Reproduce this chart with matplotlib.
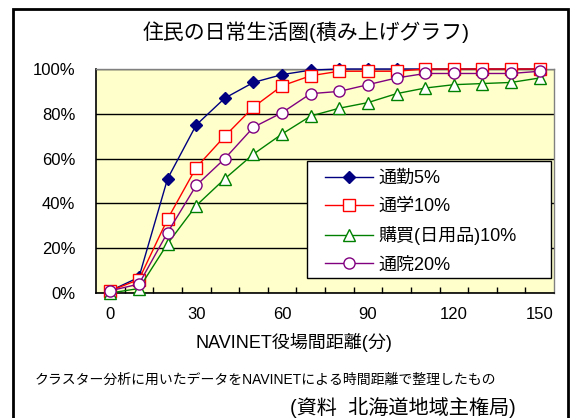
import matplotlib
matplotlib.use("Agg")
import matplotlib.pyplot as plt
from matplotlib.patches import Rectangle

plt.rcParams['font.family'] = ['Liberation Sans', 'Noto Sans CJK JP']

# Travel time to the town office (minutes) and cumulative share of residents (%)
minutes = [0, 10, 20, 30, 40, 50, 60, 70, 80, 90, 100, 110, 120, 130, 140, 150]
commute = [1, 7, 51, 75, 87, 94, 97.5, 99.5, 100, 100, 100, 100, 100, 100, 100, 100]
school = [1, 6, 33, 56, 70, 83, 92.5, 97, 99, 99, 99, 100, 100, 100, 100, 100]
shopping = [0, 2, 22, 39, 51, 62, 71, 79, 82.5, 85, 89, 91.5, 93, 93.5, 94, 96]
hospital = [1, 4, 27, 48, 60, 74, 80.5, 89, 90, 93, 96, 98, 98, 98, 98, 99]

series_labels = ['通勤5%', '通学10%', '購買(日用品)10%', '通院20%']
x_tick_values = [0, 30, 60, 90, 120, 150]
x_tick_labels = ['0', '30', '60', '90', '120', '150']
y_tick_values = [0, 20, 40, 60, 80, 100]
y_tick_labels = ['0%', '20%', '40%', '60%', '80%', '100%']

title = '住民の日常生活圏(積み上げグラフ)'
xlabel = 'NAVINET役場間距離(分)'
note = 'クラスター分析に用いたデータをNAVINETによる時間距離で整理したもの'
source = '(資料  北海道地域主権局)'

W, H = 572, 418
fig = plt.figure(figsize=(W / 100, H / 100), dpi=100)
fig.patch.set_facecolor('white')


def fx(px):
    return px / W


def fy(py):
    return 1 - py / H


# outer frame around the whole panel
fig.patches.append(Rectangle((fx(13), -0.05), fx(568) - fx(13), fy(9) + 0.05,
                             transform=fig.transFigure, fill=False,
                             edgecolor='black', linewidth=2, zorder=0))

ax = fig.add_axes([fx(96), fy(293), (554 - 96) / W, (293 - 69) / H])
ax.set_facecolor('#FFFFCC')

styles = [
    dict(color='#000080', marker='D', markersize=6, markerfacecolor='#000080',
         markeredgecolor='#000080'),
    dict(color='#FF0000', marker='s', markersize=8, markerfacecolor='white',
         markeredgecolor='#FF0000'),
    dict(color='#008000', marker='^', markersize=9, markerfacecolor='white',
         markeredgecolor='#008000'),
    dict(color='#800080', marker='o', markersize=8, markerfacecolor='white',
         markeredgecolor='#800080'),
]

handles = []
for values, label, st in zip([commute, school, shopping, hospital], series_labels, styles):
    (ln,) = ax.plot(minutes, values, linewidth=1.0, markeredgewidth=1.0,
                    label=label, clip_on=False, zorder=3, **st)
    handles.append(ln)

ax.set_xlim(-5, 155)
ax.set_ylim(0, 100)

ax.set_xticks(x_tick_values)
ax.set_xticklabels(x_tick_labels, fontsize=12)
ax.set_xticks([m + 5 for m in minutes[:-1]], minor=True)
ax.tick_params(axis='x', which='major', length=0, pad=10)
ax.tick_params(axis='x', which='minor', direction='in', length=4, width=1, color='black')

ax.set_yticks(y_tick_values)
ax.set_yticklabels(y_tick_labels, fontsize=12)
ax.tick_params(axis='y', length=0, pad=15)

ax.grid(axis='y', color='black', linewidth=1, zorder=1)
ax.set_axisbelow(True)

for side in ('top', 'right'):
    ax.spines[side].set_color('#808080')
    ax.spines[side].set_linewidth(1)
for side in ('left', 'bottom'):
    ax.spines[side].set_color('black')
    ax.spines[side].set_linewidth(1.2)

# legend box and entries
ax.add_patch(Rectangle(((307 - 96) / 458, (293 - 278) / 224), 244 / 458, 117 / 224,
                       transform=ax.transAxes, facecolor='white', edgecolor='black',
                       linewidth=1, zorder=4.5))
leg = ax.legend(handles=handles, loc='upper left',
                bbox_to_anchor=((325 - 96) / 458, (293 - 170) / 224),
                frameon=False, borderpad=0, borderaxespad=0, fontsize=13,
                handlelength=2.66, handletextpad=0.28, labelspacing=0.62)
leg.set_zorder(5)

fig.text(fx(306), fy(32), title, ha='center', va='center', fontsize=15)
fig.text(fx(294), fy(343), xlabel, ha='center', va='center', fontsize=13)
fig.text(fx(265), fy(380), note, ha='center', va='center', fontsize=10)
fig.text(fx(403), fy(408), source, ha='center', va='center', fontsize=14.5)

fig.savefig('out.png', dpi=100)
